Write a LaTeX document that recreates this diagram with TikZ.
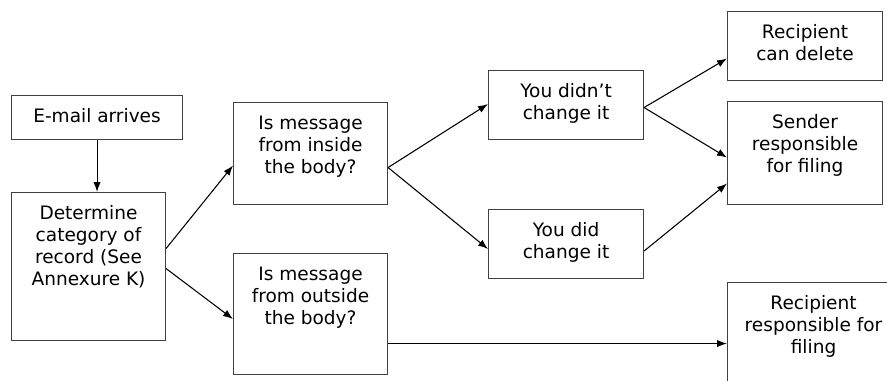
\documentclass[tikz,border=0pt]{standalone}
\usepackage{fontspec}
\setmainfont{DejaVu Sans}
\usetikzlibrary{arrows.meta,calc}

% text sits at the top of a box of fixed size
\newcommand{\boxtext}[3]{\parbox[c][#2][t]{#1}{\centering\rule{0pt}{20.5pt}#3}}

\begin{document}
\begin{tikzpicture}[x=0.75pt,y=-0.75pt,->,>={Latex[length=7.5pt,width=5.5pt]},line width=0.8pt]
\tikzstyle{stepbox} = [draw=black!75, rectangle, inner sep=0pt, anchor=north west, font=\fontsize{13.9}{16.5}\selectfont]
\useasboundingbox (0,0) rectangle (887,381);
\clip (0,0) rectangle (887,381);
\node[stepbox] (mail) at (11,95) {\boxtext{128.25pt}{33pt}{E-mail arrives}};
\node[stepbox] (det) at (11,192) {\boxtext{115.5pt}{111pt}{Determine\\category of\\record (See\\Annexure K)}};
\node[stepbox] (inside) at (233,102) {\boxtext{115.5pt}{76.5pt}{Is message\\from inside\\the body?}};
\node[stepbox] (outside) at (233,253) {\boxtext{115.5pt}{90.75pt}{Is message\\from outside\\the body?}};
\node[stepbox] (didnt) at (488,70) {\boxtext{116.25pt}{51.75pt}{You didn’t\\change it}};
\node[stepbox] (did) at (488,209) {\boxtext{116.25pt}{51.75pt}{You did\\change it}};
\node[stepbox] (rdel) at (727,11) {\boxtext{116.25pt}{51.75pt}{Recipient\\can delete}};
\node[stepbox] (sender) at (727,101) {\boxtext{116.25pt}{77.25pt}{Sender\\responsible\\for filing}};
\node[stepbox] (rfile) at (727,282) {\boxtext{129pt}{97.5pt}{Recipient\\responsible for\\filing}};
% connectors
\draw (mail.south) -- (mail.south |- det.north);
\draw ($(det.east)+(0,-18)$) -- ($(inside.west)+(0,12)$);
\draw ($(det.east)+(0,2)$) -- ($(outside.west)+(0,5)$);
\draw ($(inside.east)+(0,14)$) -- ($(didnt.west)+(0,-1)$);
\draw ($(inside.east)+(0,14)$) -- ($(did.west)+(0,5)$);
\draw ($(didnt.east)+(0,2.5)$) -- ($(rdel.west)+(0,12.5)$);
\draw ($(didnt.east)+(0,2.5)$) -- ($(sender.west)+(0,4.5)$);
\draw ($(did.east)+(0,7)$) -- ($(sender.west)+(0,30.5)$);
\draw ($(outside.east)+(0,29.5)$) coordinate (o1) -- (o1 -| rfile.west);
\end{tikzpicture}
\end{document}
